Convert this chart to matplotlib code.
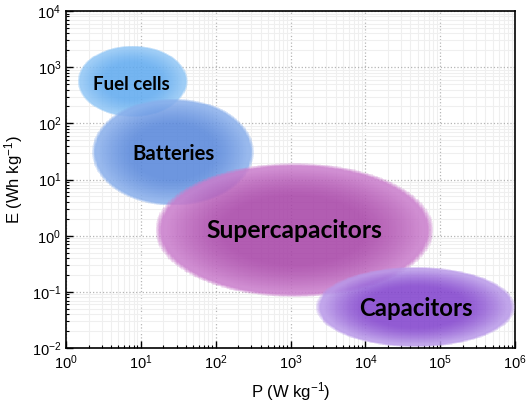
import numpy as np
import matplotlib
matplotlib.use("Agg")
import matplotlib.pyplot as plt
from matplotlib.colors import to_rgb, ListedColormap, Normalize
from matplotlib.ticker import LogLocator

plt.rcParams['font.family'] = ['Liberation Sans', 'DejaVu Sans']
plt.rcParams['mathtext.fontset'] = 'custom'
plt.rcParams['mathtext.rm'] = 'Liberation Sans'
plt.rcParams['mathtext.it'] = 'Liberation Sans:italic'
plt.rcParams['mathtext.default'] = 'regular'
plt.rcParams['axes.unicode_minus'] = False

# Data (log10 units): centre and half-extents of each region
labels = ["Fuel cells", "Batteries", "Supercapacitors", "Capacitors"]
log_p_center = [0.89, 1.43, 3.05, 4.67]
log_e_center = [2.75, 1.49, 0.10, -1.27]
log_p_halfwidth = [0.74, 1.09, 1.87, 1.34]
log_e_halfheight = [0.64, 0.96, 1.20, 0.72]
edge_colors = ["#8fc5f5", "#88aeeb", "#c97ccb", "#b898e8"]
center_colors = ["#5ea9ef", "#5585da", "#a642a6", "#8040cc"]
# label anchor (text baseline), log10 units
label_log_p = [0.876, 1.437, 3.048, 4.679]
label_log_e = [2.594, 1.347, -0.041, -1.430]
label_sizes = [13.5, 14.6, 17.7, 17.3]

xlim = (1e0, 1e6)
ylim = (1e-2, 1e4)

fig = plt.figure(figsize=(5.29, 4.09), dpi=100)
ax = fig.add_axes([0.1248, 0.149, 0.849, 0.824])
ax.set_xscale('log')
ax.set_yscale('log')

ax.xaxis.set_major_locator(LogLocator(base=10, numticks=10))
ax.yaxis.set_major_locator(LogLocator(base=10, numticks=10))
ax.xaxis.set_minor_locator(LogLocator(base=10, subs=np.arange(2, 10), numticks=20))
ax.yaxis.set_minor_locator(LogLocator(base=10, subs=np.arange(2, 10), numticks=20))

ax.grid(which='minor', color='#efefef', linewidth=0.8, linestyle='-')
ax.grid(which='major', color='#b5b5b5', linewidth=0.9, linestyle=':')
ax.set_axisbelow(True)

ax.tick_params(which='both', direction='in', top=False, right=False,
               labelsize=10.5, colors='black')
ax.tick_params(which='major', length=5, width=1)
ax.tick_params(which='minor', length=2.5, width=0.8)
for s in ax.spines.values():
    s.set_linewidth(1.2)

ax.set_xlabel("P (W kg$^{-1}$)", fontsize=12, labelpad=6)
ax.set_ylabel("E (Wh kg$^{-1}$)", fontsize=12, labelpad=5)

npx = 220
rr = np.linspace(0, 1, 256)
for i in range(len(labels)):
    ce = np.array(to_rgb(center_colors[i]))
    ed = np.array(to_rgb(edge_colors[i]))
    t = np.clip((rr - 0.5) / 0.42, 0, 1) ** 1.3
    cols = np.zeros((256, 4))
    for c in range(3):
        cols[:, c] = ce[c] * (1 - t) + ed[c] * t
    cols[:, 3] = 0.86 * np.clip((1.0 - rr) / 0.045, 0, 1) ** 0.8
    cmap = ListedColormap(cols)
    cmap.set_over((1, 1, 1, 0))

    cx, cy = log_p_center[i], log_e_center[i]
    a, b = log_p_halfwidth[i], log_e_halfheight[i]
    gx = np.linspace(cx - a * 1.01, cx + a * 1.01, npx + 1)
    gy = np.linspace(cy - b * 1.01, cy + b * 1.01, npx + 1)
    mx = 0.5 * (gx[:-1] + gx[1:])
    my = 0.5 * (gy[:-1] + gy[1:])
    X, Y = np.meshgrid(mx, my)
    r = np.sqrt(((X - cx) / a) ** 2 + ((Y - cy) / b) ** 2)
    ax.pcolormesh(10 ** gx, 10 ** gy, r, cmap=cmap, norm=Normalize(0, 1),
                  shading='flat', zorder=2 + i, edgecolors='none',
                  antialiased=False)

ax.set_xlim(*xlim)
ax.set_ylim(*ylim)

for i in range(len(labels)):
    ax.text(10 ** label_log_p[i], 10 ** label_log_e[i], labels[i],
            ha='center', va='baseline', fontsize=label_sizes[i], fontweight='bold',
            family=['Lato', 'DejaVu Sans'], color='black', zorder=10)

fig.savefig("out.png", dpi=100)
